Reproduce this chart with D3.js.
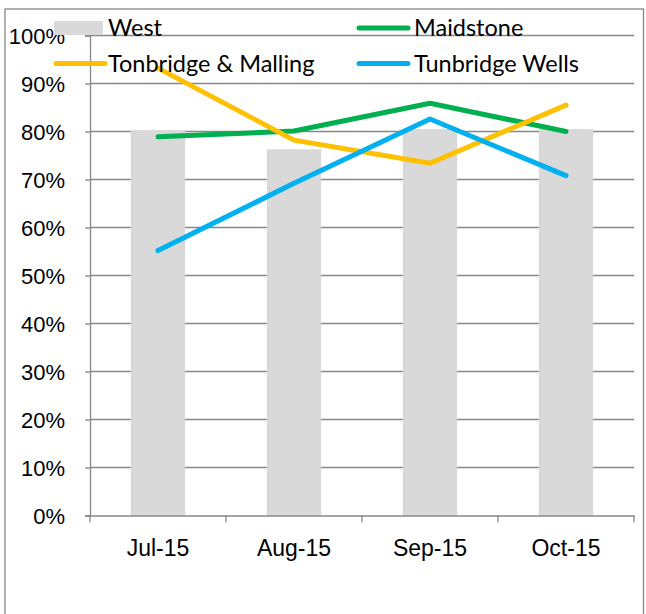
<!DOCTYPE html>
<html>
<head>
<meta charset="utf-8">
<script src="https://cdn.jsdelivr.net/npm/d3@7"></script>
<style>
  html, body { margin: 0; padding: 0; background: #fff; }
  svg { display: block; font-family: Lato, "Open Sans", sans-serif; }
</style>
</head>
<body>
<div id="chart"></div>
<script>
// Monthly rates, Jul-Oct 2015
const months = ["Jul-15", "Aug-15", "Sep-15", "Oct-15"];
const west = [0.803, 0.763, 0.805, 0.805];
const maidstone = [0.789, 0.801, 0.859, 0.800];
const tonbridgeMalling = [0.932, 0.782, 0.734, 0.855];
const tunbridgeWells = [0.552, 0.692, 0.826, 0.708];
const yTicks = [0, 0.1, 0.2, 0.3, 0.4, 0.5, 0.6, 0.7, 0.8, 0.9, 1.0];

const lineSeries = [
  { name: "Maidstone", values: maidstone, color: "#00b050" },
  { name: "Tonbridge & Malling", values: tonbridgeMalling, color: "#ffc000" },
  { name: "Tunbridge Wells", values: tunbridgeWells, color: "#00b0f0" }
];

(function() {
  const W = 646, H = 614;
  const margin = { top: 35.5, right: 12, bottom: 98.5, left: 90 };
  const gridColor = "#878787";

  const svg = d3.select("#chart").append("svg")
    .attr("width", W).attr("height", H);

  // chart border
  svg.append("rect")
    .attr("x", 5).attr("y", 9).attr("width", 638.5).attr("height", 620)
    .attr("fill", "#fff").attr("stroke", gridColor).attr("stroke-width", 1.3);

  const x = d3.scaleBand().domain(months)
    .range([margin.left, W - margin.right]).padding(0);
  const y = d3.scaleLinear().domain([0, 1])
    .range([H - margin.bottom, margin.top]);

  // gridlines
  svg.append("g").selectAll("line").data(yTicks.slice(1)).enter().append("line")
    .attr("x1", margin.left).attr("x2", W - margin.right)
    .attr("y1", d => y(d)).attr("y2", d => y(d))
    .attr("stroke", gridColor).attr("stroke-width", 1.3);

  // y axis
  const yAxis = svg.append("g")
    .attr("transform", `translate(${margin.left},0)`)
    .call(d3.axisLeft(y).tickValues(yTicks).tickFormat(d3.format(".0%"))
      .tickSize(5).tickPadding(20));
  yAxis.select(".domain").attr("stroke", gridColor).attr("stroke-width", 1.3);
  yAxis.selectAll(".tick line").attr("stroke", gridColor).attr("stroke-width", 1.3);
  yAxis.selectAll("text").attr("fill", "#000").style("font-size", "22px")
    .attr("dy", "0.36em");

  // bars (West)
  const barW = x.bandwidth() * 0.4;
  svg.append("g").selectAll("rect").data(months).enter().append("rect")
    .attr("x", d => x(d) + (x.bandwidth() - barW) / 2)
    .attr("width", barW)
    .attr("y", (d, i) => y(west[i]))
    .attr("height", (d, i) => y(0) - y(west[i]))
    .attr("fill", "#d9d9d9");

  // x axis
  const xAxis = svg.append("g")
    .attr("transform", `translate(0,${y(0)})`)
    .call(d3.axisBottom(x).tickSize(0).tickPadding(24));
  xAxis.select(".domain").attr("stroke", gridColor).attr("stroke-width", 1.3);
  xAxis.selectAll("text").attr("fill", "#000").style("font-size", "23px");
  // tick marks at category boundaries
  const bounds = months.map(m => x(m)).concat([x(months[months.length - 1]) + x.bandwidth()]);
  xAxis.append("g").selectAll("line").data(bounds).enter().append("line")
    .attr("x1", d => d).attr("x2", d => d)
    .attr("y1", 0).attr("y2", 7)
    .attr("stroke", gridColor).attr("stroke-width", 1.3);

  // lines
  const line = d3.line()
    .x((d, i) => x(months[i]) + x.bandwidth() / 2)
    .y(d => y(d));
  lineSeries.forEach(s => {
    svg.append("path").datum(s.values)
      .attr("d", line)
      .attr("fill", "none").attr("stroke", s.color)
      .attr("stroke-width", 5)
      .attr("stroke-linecap", "round").attr("stroke-linejoin", "round");
  });

  // legend
  const legendItems = [
    { name: "West", type: "bar", color: "#d9d9d9" },
    { name: lineSeries[0].name, type: "line", color: lineSeries[0].color },
    { name: lineSeries[1].name, type: "line", color: lineSeries[1].color },
    { name: lineSeries[2].name, type: "line", color: lineSeries[2].color }
  ];
  const legend = svg.append("g");
  legendItems.forEach((d, i) => {
    const col = i % 2, row = Math.floor(i / 2);
    const lx = col === 0 ? 54 : 357;
    const ly = row === 0 ? 28 : 63.5;
    const g = legend.append("g").attr("transform", `translate(${lx},${ly})`);
    if (d.type === "bar") {
      g.append("rect").attr("x", 0).attr("y", -7).attr("width", 49).attr("height", 14)
        .attr("fill", d.color);
    } else {
      g.append("line").attr("x1", 2).attr("x2", 51).attr("y1", 0).attr("y2", 0)
        .attr("stroke", d.color).attr("stroke-width", 5).attr("stroke-linecap", "round");
    }
    g.append("text").attr("x", col === 0 ? 54 : 57).attr("y", 8)
      .style("font-size", "23.5px").attr("fill", "#000").text(d.name);
  });
})();
</script>
</body>
</html>
